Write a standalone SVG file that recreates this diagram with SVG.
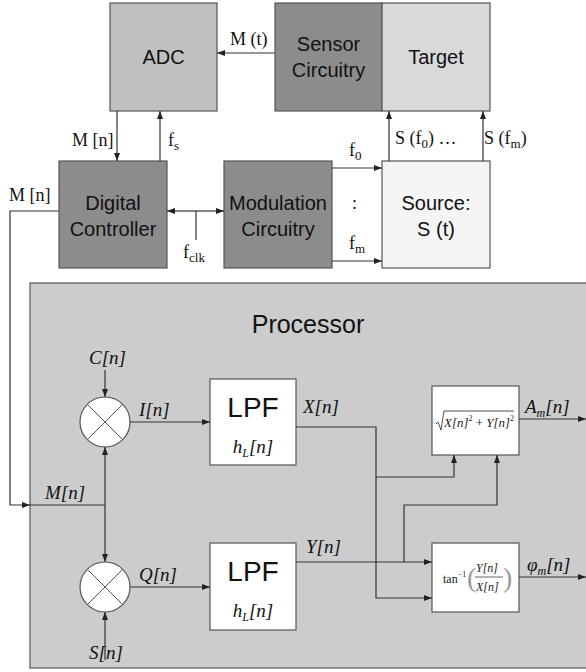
<svg xmlns="http://www.w3.org/2000/svg" width="586" height="672" viewBox="0 0 586 672">
<defs>
<marker id="ah" viewBox="0 0 8 6" refX="8" refY="3" markerWidth="8" markerHeight="6" markerUnits="userSpaceOnUse" orient="auto-start-reverse">
<path d="M0,0 L8,3 L0,6 Z" fill="#222"/>
</marker>
<style>
.box{stroke:#555;stroke-width:1.2}
.sans{font-family:"Liberation Sans",Arial,sans-serif;fill:#111}
.ser{font-family:"Liberation Serif","Times New Roman",serif;fill:#111;font-size:18px}
.it{font-family:"Liberation Serif","Times New Roman",serif;font-style:italic;fill:#111;font-size:19px}
.ln{fill:none;stroke:#333;stroke-width:1.2}
.ar{marker-end:url(#ah)}
</style>
</defs>
<rect width="586" height="672" fill="#fff"/>

<g id="processor">
<rect class="box" x="30" y="283" width="570" height="385" fill="#cccccc"/>
<text class="sans" x="308" y="333" font-size="25" text-anchor="middle">Processor</text>
</g>

<g id="adc">
<rect class="box" x="110" y="3" width="107" height="108" fill="#c0c0c0"/>
<text class="sans" x="163.5" y="64" font-size="20" text-anchor="middle">ADC</text>
</g>
<g id="sensor">
<rect class="box" x="275" y="3" width="107" height="108" fill="#8c8c8c"/>
<text class="sans" x="328.5" y="51" font-size="20" text-anchor="middle">Sensor</text>
<text class="sans" x="328.5" y="77" font-size="20" text-anchor="middle">Circuitry</text>
</g>
<g id="target">
<rect class="box" x="382" y="3" width="108" height="108" fill="#d9d9d9"/>
<text class="sans" x="436" y="64" font-size="20" text-anchor="middle">Target</text>
</g>
<g id="controller">
<rect class="box" x="59" y="161" width="108" height="107" fill="#8c8c8c"/>
<text class="sans" x="113" y="210" font-size="20" text-anchor="middle">Digital</text>
<text class="sans" x="113" y="236" font-size="20" text-anchor="middle">Controller</text>
</g>
<g id="modulation">
<rect class="box" x="224" y="161" width="108" height="107" fill="#8c8c8c"/>
<text class="sans" x="278" y="210" font-size="20" text-anchor="middle">Modulation</text>
<text class="sans" x="278" y="236" font-size="20" text-anchor="middle">Circuitry</text>
</g>
<g id="source">
<rect class="box" x="382" y="161" width="108" height="107" fill="#f5f5f5"/>
<text class="sans" x="436" y="210" font-size="20" text-anchor="middle">Source:</text>
<text class="sans" x="436" y="236" font-size="20" text-anchor="middle">S (t)</text>
</g>

<g id="mixer-i">
<circle cx="105" cy="422" r="25" fill="#fff" stroke="#555" stroke-width="1.2"/>
<path d="M87.3,404.3 L122.7,439.7 M122.7,404.3 L87.3,439.7" stroke="#555" stroke-width="1"/>
</g>
<g id="mixer-q">
<circle cx="105" cy="587" r="25" fill="#fff" stroke="#555" stroke-width="1.2"/>
<path d="M87.3,569.3 L122.7,604.7 M122.7,569.3 L87.3,604.7" stroke="#555" stroke-width="1"/>
</g>
<g id="lpf-1">
<rect class="box" x="210" y="379" width="86" height="86" fill="#fff"/>
<text class="sans" x="253" y="417" font-size="28" text-anchor="middle">LPF</text>
<text class="it" x="253" y="453" text-anchor="middle">h<tspan font-size="12" dy="4">L</tspan><tspan dy="-4">[n]</tspan></text>
</g>
<g id="lpf-2">
<rect class="box" x="210" y="543" width="86" height="87" fill="#fff"/>
<text class="sans" x="253" y="581" font-size="28" text-anchor="middle">LPF</text>
<text class="it" x="253" y="617" text-anchor="middle">h<tspan font-size="12" dy="4">L</tspan><tspan dy="-4">[n]</tspan></text>
</g>
<g id="magnitude">
<rect class="box" x="432" y="386" width="87" height="69" fill="#fff"/>
<path d="M436,424 L438,422 L441,430 L444,411 L514,411" fill="none" stroke="#222" stroke-width="0.8"/>
<text font-family="Liberation Serif,serif" font-style="italic" font-size="13" fill="#222" x="444" y="427" textLength="70" lengthAdjust="spacingAndGlyphs">X[n]<tspan font-style="normal" font-size="8" dy="-6">2</tspan><tspan font-style="normal" dy="6"> + </tspan>Y[n]<tspan font-style="normal" font-size="8" dy="-6">2</tspan></text>
</g>
<g id="phase">
<rect class="box" x="432" y="543" width="87" height="69" fill="#fff"/>
<text font-family="Liberation Serif,serif" font-size="12" fill="#222" x="443" y="583">tan<tspan font-size="8" dy="-6">−1</tspan></text>
<text font-family="Liberation Serif,serif" font-size="28" fill="#999" x="467" y="587">(</text>
<text font-family="Liberation Serif,serif" font-size="28" fill="#999" x="503" y="587">)</text>
<text font-family="Liberation Serif,serif" font-style="italic" font-size="12" fill="#222" x="476" y="572">Y[n]</text>
<line x1="475" y1="577" x2="503" y2="577" stroke="#222" stroke-width="0.7"/>
<text font-family="Liberation Serif,serif" font-style="italic" font-size="12" fill="#222" x="476" y="591">X[n]</text>
</g>

<g id="connectors">
<path class="ln ar" d="M275,53 H217"/>
<path class="ln ar" d="M117,111 V161"/>
<path class="ln ar" d="M160,161 V111"/>
<path class="ln ar" d="M195,211 H167"/>
<path class="ln ar" d="M195,211 H224"/>
<path class="ln" d="M196,211 V240"/>
<path class="ln ar" d="M332,168 H382"/>
<path class="ln ar" d="M332,261 H382"/>
<path class="ln ar" d="M389,161 V111"/>
<path class="ln ar" d="M483,161 V111"/>
<path class="ln ar" d="M59,211 H10 V505 H30"/>
<path class="ln" d="M30,505 H105"/>
<path class="ln ar" d="M105,505 V447"/>
<path class="ln ar" d="M105,505 V562"/>
<path class="ln ar" d="M105,370 V397"/>
<path class="ln ar" d="M105,660 V612"/>
<path class="ln ar" d="M130,422 H210"/>
<path class="ln ar" d="M130,587 H210"/>
<path class="ln ar" d="M296,427 H376 V598 H432"/>
<path class="ln ar" d="M376,477 H454 V455"/>
<path class="ln ar" d="M296,562 H432"/>
<path class="ln ar" d="M404,562 V505 H497 V455"/>
<path class="ln ar" d="M519,419 H586"/>
<path class="ln ar" d="M519,577 H586"/>
</g>

<g id="labels">
<text class="ser" x="230" y="45">M (t)</text>
<text class="ser" x="72" y="146">M [n]</text>
<text class="ser" x="168" y="146">f<tspan font-size="13" dy="4">s</tspan></text>
<text class="ser" x="9" y="201">M [n]</text>
<text class="ser" x="183" y="258">f<tspan font-size="13" dy="4">clk</tspan></text>
<text class="ser" x="349" y="156">f<tspan font-size="13" dy="4">0</tspan></text>
<text class="ser" x="352" y="209">:</text>
<text class="ser" x="349" y="249">f<tspan font-size="13" dy="4">m</tspan></text>
<text class="ser" x="395" y="144">S (f<tspan font-size="13" dy="4">0</tspan><tspan dy="-4">)  …</tspan></text>
<text class="ser" x="484" y="144">S (f<tspan font-size="13" dy="4">m</tspan><tspan dy="-4">)</tspan></text>
<text class="it" x="89" y="364">C[n]</text>
<text class="it" x="139" y="416">I[n]</text>
<text class="it" x="303" y="413">X[n]</text>
<text class="it" x="525" y="413">A<tspan font-size="12" dy="4">m</tspan><tspan dy="-4">[n]</tspan></text>
<text class="it" x="45" y="499">M[n]</text>
<text class="it" x="139" y="581">Q[n]</text>
<text class="it" x="306" y="553">Y[n]</text>
<text class="it" x="527" y="571">φ<tspan font-size="12" dy="4">m</tspan><tspan dy="-4">[n]</tspan></text>
<text class="it" x="89" y="659">S[n]</text>
</g>
</svg>
